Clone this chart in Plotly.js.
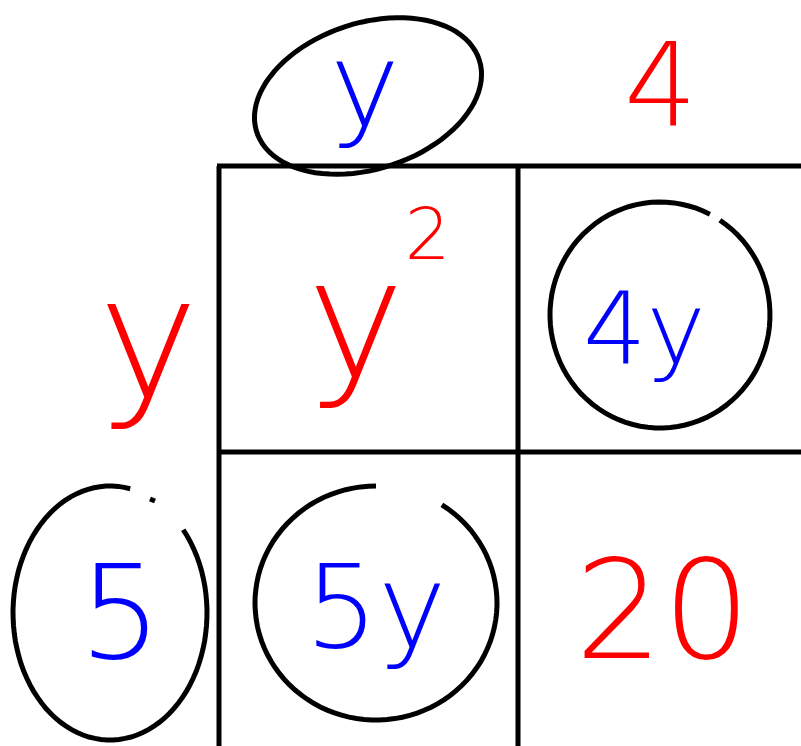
<!DOCTYPE html>
<html><head><meta charset="utf-8">
<script src="https://cdn.plot.ly/plotly-3.0.1.min.js"></script>
<style>html,body{margin:0;padding:0;background:#fff}#chart{width:801px;height:746px}</style>
</head><body><div id="chart"></div>
<script>
// Box (area) model for (y + 5)(y + 4)
const colHeaders = ['y', '4'];
const colHeaderColors = ['#0000ff', '#ff0000'];
const colHeaderCircled = [true, false];
const rowHeaders = ['y', '5'];
const rowHeaderColors = ['#ff0000', '#0000ff'];
const rowHeaderCircled = [false, true];
const cellTerms = [['y<sup><sup><span style="font-size:72px">2</span></sup></sup>', '4y'], ['5y', '20']];
const cellColors = [['#ff0000', '#0000ff'], ['#0000ff', '#ff0000']];
const cellCircled = [[false, true], [true, false]];

// layout geometry (pixels in data space)
const gridX = [219, 518, 801];
const gridY = [166, 452, 746];
const headColX = 120, headRowY = 95;
const colCenters = [368, 660];
const rowCenters = [310, 605];

const shapes = [];
const line = {color: '#000', width: 5};
// grid
shapes.push({type: 'line', x0: gridX[0] - 2, x1: gridX[2], y0: gridY[0], y1: gridY[0], line});
shapes.push({type: 'line', x0: gridX[0], x1: gridX[2], y0: gridY[1], y1: gridY[1], line});
shapes.push({type: 'line', x0: gridX[0], x1: gridX[0], y0: gridY[0], y1: gridY[2], line});
shapes.push({type: 'line', x0: gridX[1], x1: gridX[1], y0: gridY[0], y1: gridY[2], line});

// hand-drawn style loop: an elliptical arc from angle a0 to a1 (degrees, screen coords)
function arcPath(cx, cy, rx, ry, rotDeg, a0, a1) {
  const r = rotDeg * Math.PI / 180;
  const n = 90;
  let p = '';
  for (let i = 0; i <= n; i++) {
    const t = (a0 + (a1 - a0) * i / n) * Math.PI / 180;
    const ex = rx * Math.cos(t), ey = ry * Math.sin(t);
    const x = cx + ex * Math.cos(r) - ey * Math.sin(r);
    const y = cy + ex * Math.sin(r) + ey * Math.cos(r);
    p += (i === 0 ? 'M' : 'L') + x.toFixed(1) + ',' + y.toFixed(1);
  }
  return p;
}
const circ = {color: '#000', width: 5};
// circles around the factors / partial products: [cx, cy, rx, ry, rot, startAngle, endAngle]
const circleSpecs = {
  colHead0: [368, 96, 117, 73, -18, -80, 282],
  rowHead1: [110, 613, 97, 127, 0, -41, 282],
  cell01: [660, 315, 110, 113, 0, -57, 297],
  cell10: [376, 603, 121, 117, 0, -57, 270]
};
function addLoop(spec) {
  shapes.push({type: 'path', path: arcPath(...spec), line: circ, fillcolor: 'rgba(0,0,0,0)'});
}
if (colHeaderCircled[0]) addLoop(circleSpecs.colHead0);
if (rowHeaderCircled[1]) {
  addLoop(circleSpecs.rowHead1);
  shapes.push({type: 'line', x0: 150, y0: 499, x1: 155, y1: 501, line: circ}); // stray pen dot
}
if (cellCircled[0][1]) addLoop(circleSpecs.cell01);
if (cellCircled[1][0]) addLoop(circleSpecs.cell10);

const fam = 'DejaVu Sans, sans-serif';
const ann = [];
function addText(text, x, y, color, size) {
  ann.push({text, x, y, xref: 'x', yref: 'y', showarrow: false, xanchor: 'center', yanchor: 'middle',
            font: {family: fam, size, color, weight: 200}});
}
addText(colHeaders[0], colCenters[0] - 3, headRowY - 10, colHeaderColors[0], 118);
addText(colHeaders[1], colCenters[1], headRowY - 10, colHeaderColors[1], 115);
addText(rowHeaders[0], headColX + 28, rowCenters[0] + 28, rowHeaderColors[0], 170);
addText(rowHeaders[1], headColX, rowCenters[1] + 8, rowHeaderColors[1], 130);
addText(cellTerms[0][0], colCenters[0] + 10, rowCenters[0] - 6, cellColors[0][0], 165);
addText(cellTerms[0][1], colCenters[1] - 16, rowCenters[0] + 18, cellColors[0][1], 100);
addText(cellTerms[1][0], colCenters[0] + 7, rowCenters[1] + 2, cellColors[1][0], 115);
addText(cellTerms[1][1], colCenters[1] + 3, rowCenters[1] + 5, cellColors[1][1], 138);

Plotly.newPlot('chart', [], {
  width: 801, height: 746,
  margin: {l: 0, r: 0, t: 0, b: 0},
  paper_bgcolor: '#fff', plot_bgcolor: '#fff',
  xaxis: {range: [0, 801], visible: false, fixedrange: true},
  yaxis: {range: [746, 0], visible: false, fixedrange: true},
  shapes, annotations: ann, showlegend: false
}, {staticPlot: true});
</script></body></html>
